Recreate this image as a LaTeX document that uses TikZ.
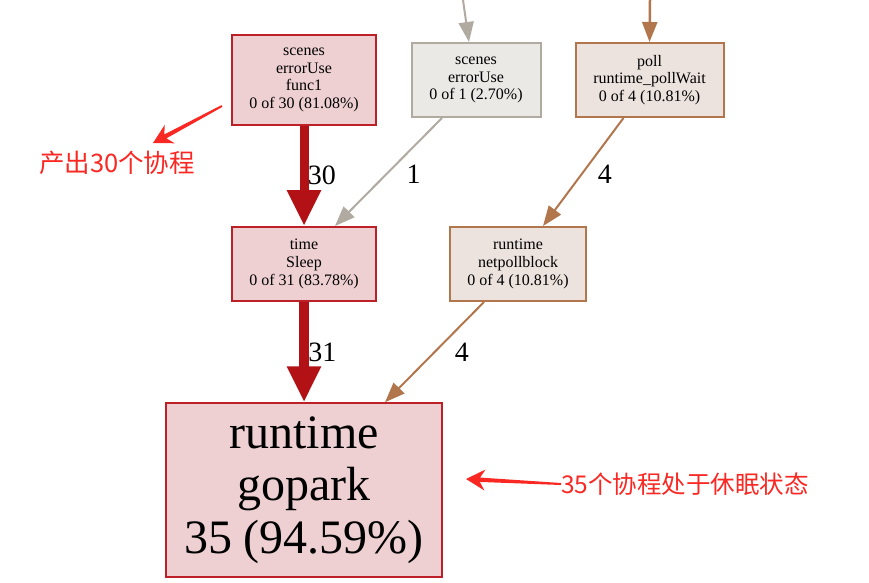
\documentclass[tikz,border=0pt]{standalone}
\usepackage{fontspec}
\setmainfont{Liberation Serif}
\newfontfamily\cjk{Noto Sans CJK SC}
\usetikzlibrary{arrows.meta,calc}

\definecolor{hotred}{RGB}{178,18,22}
\definecolor{boxred}{RGB}{190,32,40}
\definecolor{fillred}{RGB}{238,208,210}
\definecolor{coldgray}{RGB}{176,170,161}
\definecolor{fillgray}{RGB}{235,233,230}
\definecolor{warmbrown}{RGB}{178,118,76}
\definecolor{fillbrown}{RGB}{237,227,222}
\definecolor{notered}{RGB}{250,40,35}

\tikzset{
    fn/.style={draw, line width=2pt, align=center, inner sep=0pt,
        font=\fontsize{16}{17.8}\selectfont},
    redfn/.style={fn, draw=boxred, fill=fillred},
    grayfn/.style={fn, draw=coldgray, fill=fillgray},
    brownfn/.style={fn, draw=warmbrown, fill=fillbrown},
    hotedge/.style={draw=hotred, line width=9pt, -{Triangle[length=36pt,width=32pt]}},
    thinedge/.style={line width=2pt, -{Triangle[length=20pt,width=15pt]}},
    elabel/.style={font=\fontsize{28}{32}\selectfont},
    note/.style={text=notered, inner sep=0pt}
}

% tapered hand-drawn arrow: tail, tip
\newcommand\notearrow[2]{%
    \coordinate (hb) at ($(#2)!19pt!(#1)$);
    \coordinate (hi) at ($(#2)!14pt!(#1)$);
    \fill[notered] ($(#1)!1pt!90:(#2)$) -- ($(hi)!2.2pt!90:(#2)$)
        -- ($(hb)!10.5pt!90:(#2)$) -- (#2) -- ($(hb)!10.5pt!-90:(#2)$)
        -- ($(hi)!2.2pt!-90:(#2)$) -- ($(#1)!1pt!-90:(#2)$) -- cycle;
}

\begin{document}
\begin{tikzpicture}[x=1pt,y=-1pt]
    \useasboundingbox (0,0) rectangle (869,582);

    \node[redfn, minimum width=144, minimum height=90] (func1) at (304,80)
        {scenes\\errorUse\\func1\\0 of 30 (81.08\%)};
    \node[grayfn, minimum width=129, minimum height=74] (erruse) at (476,80)
        {scenes\\errorUse\\0 of 1 (2.70\%)};
    \node[brownfn, minimum width=148, minimum height=74] (pollwait) at (649.5,80)
        {poll\\runtime\_pollWait\\0 of 4 (10.81\%)};
    \node[redfn, minimum width=144, minimum height=74] (sleep) at (304,264)
        {time\\Sleep\\0 of 31 (83.78\%)};
    \node[brownfn, minimum width=136, minimum height=74] (netpoll) at (518,264)
        {runtime\\netpollblock\\0 of 4 (10.81\%)};
    \node[redfn, minimum width=276, minimum height=174, line width=1.5pt,
        font=\fontsize{48}{52.5}\selectfont] (gopark) at (304,490)
        {runtime\\gopark\\35 (94.59\%)};

    \coordinate (grayin) at (463,0);
    \coordinate (brownin) at (650,0);

    \draw[thinedge, draw=coldgray, fill=coldgray] (grayin) -- ([xshift=-7pt]erruse.north);
    \draw[thinedge, draw=warmbrown, fill=warmbrown, line width=2.5pt] (brownin) -- (pollwait.north);

    \draw[hotedge] (func1.south) -- (sleep.north)
        node[elabel, pos=0.49, right=-4pt] {30};
    \draw[thinedge, draw=coldgray, fill=coldgray] ([xshift=-34pt]erruse.south) -- ([xshift=31pt]sleep.north)
        node[elabel, pos=0.52, right=16pt] {1};
    \draw[thinedge, draw=warmbrown, fill=warmbrown] ([xshift=-26pt]pollwait.south) -- ([xshift=25pt]netpoll.north)
        node[elabel, pos=0.52, right=12pt] {4};
    \draw[hotedge, line width=10pt] (sleep.south) -- (gopark.north)
        node[elabel, pos=0.5, right=-4pt] {31};
    \draw[thinedge, draw=warmbrown, fill=warmbrown] ([xshift=-34pt]netpoll.south) -- ([xshift=81pt]gopark.north)
        node[elabel, pos=0.5, right=16pt] {4};

    \node[note, font=\cjk\fontsize{25.5}{28}\selectfont] (spawnnote) at (117,163) {产出30个协程};
    \node[note, font=\cjk\fontsize{24.5}{28}\selectfont, anchor=west] (sleepnote) at (561,484) {35个协程处于休眠状态};

    \coordinate (spawntail) at (222,106);
    \coordinate (spawntip) at (153,143);
    \coordinate (sleeptip) at (466,479);
    \notearrow{spawntail}{spawntip}
    \notearrow{sleepnote.west}{sleeptip}
\end{tikzpicture}
\end{document}
